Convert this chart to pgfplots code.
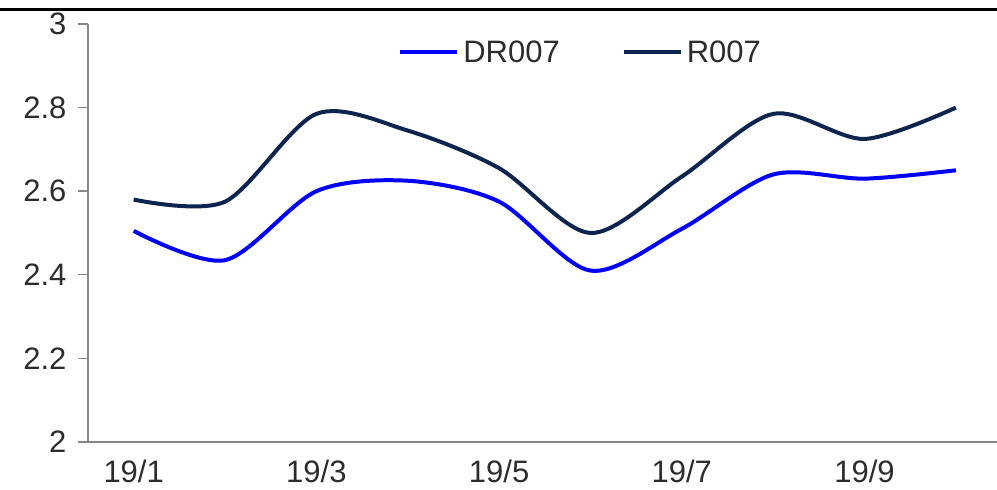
\documentclass[border=0pt]{standalone}
\usepackage{pgfplots}
\pgfplotsset{compat=1.18}
\usepackage{fontspec}
\setmainfont{Liberation Sans}
\definecolor{drblue}{RGB}{0,0,245}
\definecolor{rnavy}{RGB}{12,36,78}
\definecolor{axgray}{RGB}{135,135,135}
\definecolor{txt}{RGB}{45,45,45}
\begin{document}
\begin{tikzpicture}[x=1pt,y=1pt]
\useasboundingbox (0,0) rectangle (997,490);
\draw[black, line width=2.6pt] (0,480.5) -- (997,480.5);
\begin{axis}[
  at={(88pt,48pt)}, anchor=south west,
  scale only axis, width=909pt, height=418pt,
  xmin=-0.5, xmax=9.45, ymin=2, ymax=3,
  axis x line=bottom, axis y line=left,
  axis line style={-, axgray, line width=1.4pt},
  tick style={axgray, line width=1.4pt},
  tick align=outside,
  xtick={0,2,4,6,8},
  xticklabels={19/1,19/3,19/5,19/7,19/9},
  x tick style={draw=none},
  extra x ticks={-0.5,1.5,3.5,5.5,7.5},
  extra x tick labels={},
  extra x tick style={tick style={axgray, line width=1.4pt}, major tick length=10pt},
  ytick={2,2.2,2.4,2.6,2.8,3},
  yticklabels={2,2.2,2.4,2.6,2.8,3},
  major tick length=10pt,
  ticklabel style={font=\fontsize{31}{37}\selectfont, text=txt},
  yticklabel style={xshift=-8pt},
  xticklabel style={yshift=-5pt},
  /pgf/number format/assume math mode=true,
  legend style={at={(0.543,0.933)}, anchor=center, draw=none, fill=none,
    font=\fontsize{31}{37}\selectfont, text=txt,
    nodes={inner xsep=4pt},
    /tikz/every even column/.append style={column sep=58pt}},
  legend columns=2,
  legend image code/.code={\draw[#1] (0pt,0pt) -- (57pt,0pt);},
  clip=false,
]
\addplot[drblue, line width=4pt, smooth, tension=0.5] coordinates {
(0,2.505) (1,2.435) (2,2.60) (3,2.625) (4,2.575) (5,2.41) (6,2.51) (7,2.64) (8,2.63) (9,2.65)};
\addlegendentry{DR007}
\addplot[rnavy, line width=4pt, smooth, tension=0.5] coordinates {
(0,2.58) (1,2.575) (2,2.785) (3,2.745) (4,2.655) (5,2.50) (6,2.635) (7,2.785) (8,2.725) (9,2.80)};
\addlegendentry{R007}
\end{axis}
\end{tikzpicture}
\end{document}
